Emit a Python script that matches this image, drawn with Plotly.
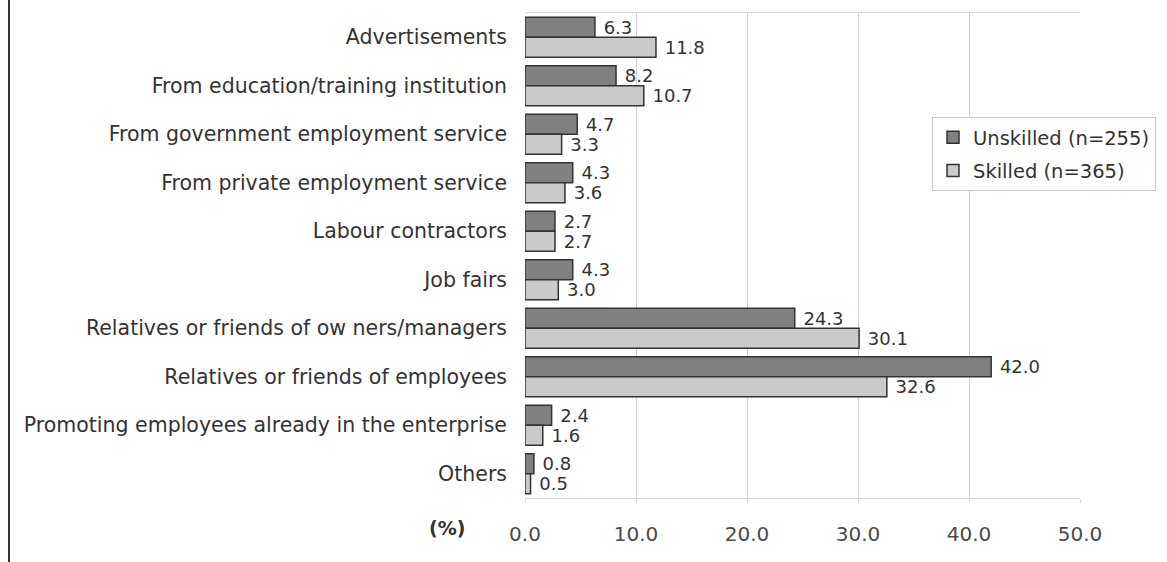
import plotly.graph_objects as go

categories = [
    "Advertisements",
    "From education/training institution",
    "From government employment service",
    "From private employment service",
    "Labour contractors",
    "Job fairs",
    "Relatives or friends of ow ners/managers",
    "Relatives or friends of employees",
    "Promoting employees already in the enterprise",
    "Others",
]
unskilled = [6.3, 8.2, 4.7, 4.3, 2.7, 4.3, 24.3, 42.0, 2.4, 0.8]
skilled = [11.8, 10.7, 3.3, 3.6, 2.7, 3.0, 30.1, 32.6, 1.6, 0.5]
series_names = ["Unskilled (n=255)", "Skilled (n=365)"]
x_ticks = [0, 10, 20, 30, 40, 50]
x_tick_labels = ["0.0", "10.0", "20.0", "30.0", "40.0", "50.0"]

FONT = "DejaVu Sans"
TXT = "#333333"

fig = go.Figure()
for i, (name, vals, color) in enumerate([(series_names[0], unskilled, "#808080"),
                                         (series_names[1], skilled, "#cacaca")]):
    fig.add_trace(go.Bar(
        y=categories, x=vals, name=name, orientation="h",
        legendgroup=f"g{i}",
        marker=dict(color=color, line=dict(color="#333333", width=1.5)),
        text=[f" {v:.1f}" for v in vals], textposition="outside",
        constraintext="none",
        textfont=dict(family=FONT, size=18, color=TXT),
        cliponaxis=False,
    ))

fig.update_layout(
    width=1167, height=562,
    margin=dict(l=525, r=87, t=13, b=64, autoexpand=False),
    paper_bgcolor="white", plot_bgcolor="white",
    barmode="group", bargap=0.18, bargroupgap=0.0,
    font=dict(family=FONT, size=20, color=TXT),
    showlegend=True,
    legend=dict(
        xref="container", yref="container",
        x=932 / 1167, y=1 - 117 / 562, xanchor="left", yanchor="top",
        bgcolor="white", bordercolor="#c8c8c8", borderwidth=1,
        font=dict(family=FONT, size=19.5, color=TXT),
        traceorder="grouped", tracegroupgap=5,
    ),
    xaxis=dict(
        range=[0, 50], tickvals=x_ticks, ticktext=x_tick_labels,
        showgrid=True, gridcolor="#d0d0d0", gridwidth=1,
        showline=True, linecolor="#d8d8d8", linewidth=1, mirror=True,
        ticks="outside", ticklen=4, tickcolor="#d8d8d8",
        ticklabelstandoff=14, zeroline=False,
        tickfont=dict(family=FONT, size=20, color="#4a4a4a"),
    ),
    yaxis=dict(
        autorange="reversed", showgrid=False, showline=False,
        ticks="", ticklabelstandoff=17,
        tickfont=dict(family=FONT, size=20.5, color=TXT),
    ),
    annotations=[dict(
        text="<b>(%)</b>", xref="paper", yref="paper",
        x=(447 - 525) / 555, y=-(528 - 498) / 485,
        xanchor="center", yanchor="middle", showarrow=False,
        font=dict(family=FONT, size=19, color=TXT),
    )],
    shapes=[dict(
        type="line", xref="paper", yref="paper",
        x0=(9 - 525) / 555, x1=(9 - 525) / 555,
        y0=-(562 - 498) / 485, y1=498 / 485,
        line=dict(color="#333333", width=2),
    )],
)

fig.write_html("out.html")
